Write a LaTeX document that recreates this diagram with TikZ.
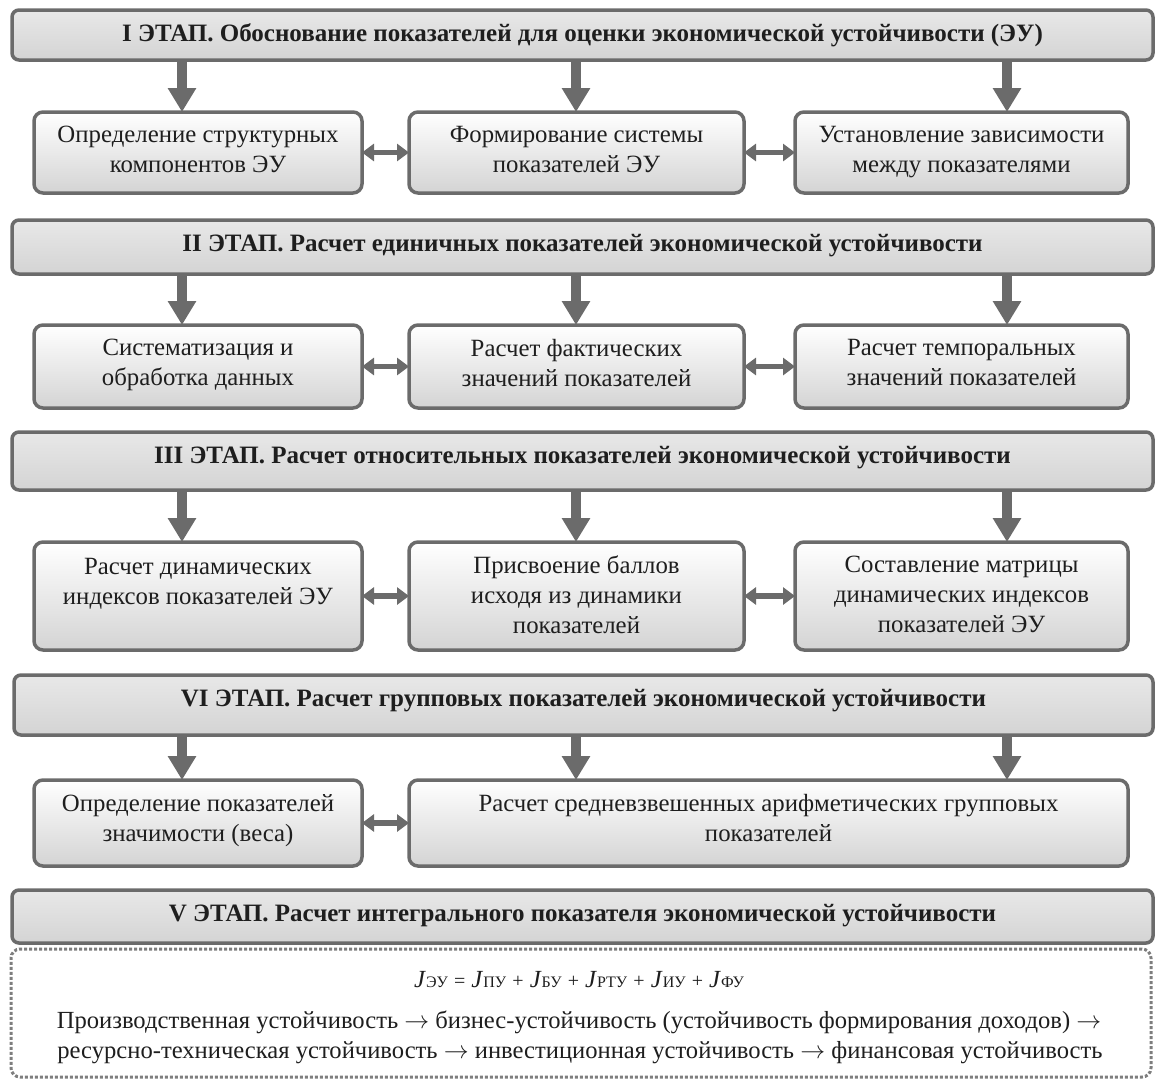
\documentclass[tikz,border=0pt]{standalone}
\usepackage{fontspec}
\setmainfont{Liberation Serif}
\usetikzlibrary{arrows.meta}
\definecolor{edge}{HTML}{6B6B6B}
\definecolor{ink}{HTML}{1E1E1E}
\definecolor{dotc}{HTML}{7E7E7E}
\tikzset{
  stagebar/.style={draw=edge, line width=3.5pt, rounded corners=7pt,
    top color=black!9, middle color=white, bottom color=black!17, inner sep=0pt, outer sep=0pt},
  stepbox/.style={draw=edge, line width=3.5pt, rounded corners=9pt,
    top color=white, bottom color=black!17, inner sep=0pt, outer sep=0pt},
  rowtext/.style={anchor=north, align=center, inner sep=0pt, text=ink,
    font=\fontsize{24.8}{30}\selectfont},
  titletext/.style={anchor=base, inner sep=0pt, text=ink,
    font=\fontsize{25}{30}\selectfont\bfseries},
  plaintext/.style={anchor=base, inner sep=0pt, text=ink,
    font=\fontsize{24.6}{30}\selectfont},
  downarrow/.style={draw=edge, line width=10pt, -{Triangle[width=27pt,length=24pt]}},
  biarrow/.style={draw=edge, line width=5.5pt,
    {Triangle[width=17pt,length=12pt]}-{Triangle[width=17pt,length=12pt]}},
  dotbox/.style={draw=dotc, line width=3pt, dash pattern=on 3pt off 2pt,
    rounded corners=9pt, inner sep=0pt, outer sep=0pt},
}
\newcommand\mkbox[6]{%
  \node[#6, minimum width={(#4-#2)*1pt}, minimum height={(#5-#3)*1pt}]
    (#1) at ({(#2+#4)/2},{(#3+#5)/2}) {};}
\newcommand\sbs[1]{{\fontsize{16}{16}\selectfont\upshape #1}}
\newcommand\op[1]{{\fontsize{20}{20}\selectfont #1}}
\newcommand\arr{$\rightarrow$}
\begin{document}
\begin{tikzpicture}[x=1pt,y=-1pt]
\useasboundingbox (0,0) rectangle (1156,1080);
\coordinate (xl) at (182,0);
\coordinate (xm) at (576,0);
\coordinate (xr) at (1007,0);

% stage bars
\mkbox{s1}{12}{10}{1153}{60}{stagebar}
\mkbox{s2}{12}{220}{1153}{274}{stagebar}
\mkbox{s3}{12}{432}{1153}{490}{stagebar}
\mkbox{s4}{14}{675}{1153}{735}{stagebar}
\mkbox{s5}{12}{890}{1153}{943}{stagebar}

% boxes
\mkbox{a1}{34}{112}{362}{193}{stepbox}
\mkbox{a2}{409}{112}{744}{193}{stepbox}
\mkbox{a3}{795}{112}{1128}{193}{stepbox}
\mkbox{b1}{34}{325}{362}{408}{stepbox}
\mkbox{b2}{409}{325}{744}{408}{stepbox}
\mkbox{b3}{795}{325}{1128}{408}{stepbox}
\mkbox{c1}{34}{542}{362}{650}{stepbox}
\mkbox{c2}{409}{542}{744}{650}{stepbox}
\mkbox{c3}{795}{542}{1128}{650}{stepbox}
\mkbox{d1}{34}{780}{362}{866}{stepbox}
\mkbox{d2}{409}{780}{1128}{866}{stepbox}
\mkbox{e1}{11}{949}{1151}{1077}{dotbox}

% titles
\node[titletext] (s1t) at ([yshift=-31pt]s1.north) {I ЭТАП. Обоснование показателей для оценки экономической устойчивости (ЭУ)};
\node[titletext] (s2t) at ([yshift=-31pt]s2.north) {II ЭТАП. Расчет единичных показателей экономической устойчивости};
\node[titletext] (s3t) at ([yshift=-31pt]s3.north) {III ЭТАП. Расчет относительных показателей экономической устойчивости};
\node[titletext] (s4t) at ([yshift=-31pt]s4.north) {VI ЭТАП. Расчет групповых показателей экономической устойчивости};
\node[titletext] (s5t) at ([yshift=-31pt]s5.north) {V ЭТАП. Расчет интегрального показателя экономической устойчивости};

% box texts
\node[rowtext] (a1t) at ([yshift=-14pt]a1.north) {Определение структурных\\компонентов ЭУ};
\node[rowtext] (a2t) at ([yshift=-14pt]a2.north) {Формирование системы\\показателей ЭУ};
\node[rowtext] (a3t) at ([yshift=-14pt]a3.north) {Установление зависимости\\между показателями};
\node[rowtext] (b1t) at ([yshift=-14pt]b1.north) {Систематизация и\\обработка данных};
\node[rowtext] (b2t) at ([yshift=-14pt]b2.north) {Расчет фактических\\значений показателей};
\node[rowtext] (b3t) at ([yshift=-14pt]b3.north) {Расчет темпоральных\\значений показателей};
\node[rowtext] (c1t) at ([yshift=-16pt]c1.north) {Расчет динамических\\индексов показателей ЭУ};
\node[rowtext] (c2t) at ([yshift=-14pt]c2.north) {Присвоение баллов\\исходя из динамики\\показателей};
\node[rowtext] (c3t) at ([yshift=-14pt]c3.north) {Составление матрицы\\динамических индексов\\показателей ЭУ};
\node[rowtext] (d1t) at ([yshift=-14pt]d1.north) {Определение показателей\\значимости (веса)};
\node[rowtext] (d2t) at ([yshift=-14pt]d2.north) {Расчет средневзвешенных арифметических групповых\\показателей};

% formula and chain
\node[plaintext] (f) at (579,987) {\textit{J}\sbs{ЭУ} \op{=} \textit{J}\sbs{ПУ} \op{+} \textit{J}\sbs{БУ} \op{+} \textit{J}\sbs{РТУ} \op{+} \textit{J}\sbs{ИУ} \op{+} \textit{J}\sbs{ФУ}};
\node[plaintext] (l1) at (579,1028) {Производственная устойчивость \arr{} бизнес-устойчивость (устойчивость формирования доходов) \arr};
\node[plaintext] (l2) at (580,1058) {ресурсно-техническая устойчивость \arr{} инвестиционная устойчивость \arr{} финансовая устойчивость};

% down arrows
\draw[downarrow] (s1.south -| xl) -- (a1.north -| xl);
\draw[downarrow] (s1.south -| xm) -- (a2.north -| xm);
\draw[downarrow] (s1.south -| xr) -- (a3.north -| xr);
\draw[downarrow] (s2.south -| xl) -- (b1.north -| xl);
\draw[downarrow] (s2.south -| xm) -- (b2.north -| xm);
\draw[downarrow] (s2.south -| xr) -- (b3.north -| xr);
\draw[downarrow] (s3.south -| xl) -- (c1.north -| xl);
\draw[downarrow] (s3.south -| xm) -- (c2.north -| xm);
\draw[downarrow] (s3.south -| xr) -- (c3.north -| xr);
\draw[downarrow] (s4.south -| xl) -- (d1.north -| xl);
\draw[downarrow] (s4.south -| xm) -- (d2.north -| xm);
\draw[downarrow] (s4.south -| xr) -- (d2.north -| xr);

% double arrows
\draw[biarrow] (a1.east) -- (a2.west);
\draw[biarrow] (a2.east) -- (a3.west);
\draw[biarrow] (b1.east) -- (b2.west);
\draw[biarrow] (b2.east) -- (b3.west);
\draw[biarrow] (c1.east) -- (c2.west);
\draw[biarrow] (c2.east) -- (c3.west);
\draw[biarrow] (d1.east) -- (d2.west);
\end{tikzpicture}
\end{document}
